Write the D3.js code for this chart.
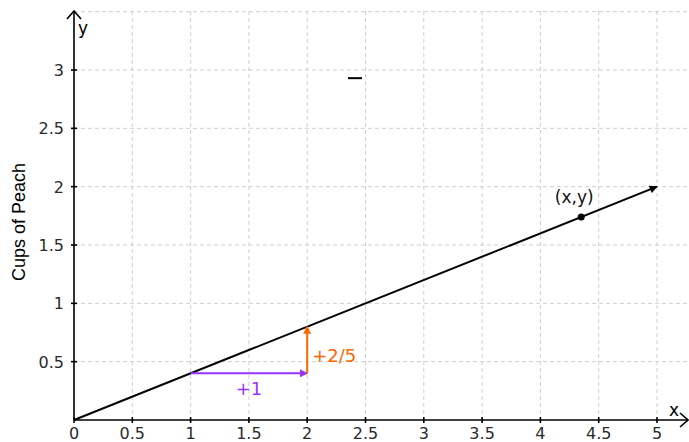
<!DOCTYPE html>
<html><head><meta charset="utf-8">
<script src="https://cdn.jsdelivr.net/npm/d3@7"></script>
<style>body{margin:0;background:#fff}svg{display:block}</style>
</head><body>
<script>
const xTicks = [0,0.5,1,1.5,2,2.5,3,3.5,4,4.5,5];
const yTicks = [0.5,1,1.5,2,2.5,3];
const xTickLabels = ["0","0.5","1","1.5","2","2.5","3","3.5","4","4.5","5"];
const yTickLabels = ["0.5","1","1.5","2","2.5","3"];
const lineStart = [0,0];
const lineEnd = [5,2];
const pointXY = [4.35,1.74];
const runArrow = [[1,0.4],[2,0.4]];
const riseArrow = [[2,0.4],[2,0.8]];
const stray = [[2.35,2.93],[2.47,2.93]];

const W=689,H=442;
const x=d3.scaleLinear().domain([0,5]).range([74,657]);
const y=d3.scaleLinear().domain([0,3]).range([420,70]);
const svg=d3.select("body").append("svg").attr("width",W).attr("height",H);
const defs=svg.append("defs");
function marker(id,color){
  defs.append("marker").attr("id",id).attr("viewBox","0 0 10 10").attr("refX",9).attr("refY",5)
   .attr("markerWidth",10).attr("markerHeight",8).attr("markerUnits","userSpaceOnUse").attr("orient","auto")
   .append("path").attr("d","M0,0L10,5L0,10Z").attr("fill",color);
}
marker("mb","#000");marker("mp","#9933ff");marker("mo","#ff6600");

const grid=svg.append("g").attr("stroke","#cfcfcf").attr("stroke-dasharray","4,3").attr("stroke-width",1);
xTicks.filter(d=>d>0).forEach(d=>grid.append("line").attr("x1",x(d)).attr("x2",x(d)).attr("y1",11).attr("y2",420));
yTicks.concat([3.5]).forEach(d=>grid.append("line").attr("x1",74).attr("x2",689).attr("y1",y(d)).attr("y2",y(d)));

// axes
const ax=svg.append("g").attr("stroke","#000").attr("stroke-width",1.6).attr("fill","none");
ax.append("line").attr("x1",74).attr("x2",74).attr("y1",420).attr("y2",11);
ax.append("path").attr("d","M67,19L74,11L81,19");
ax.append("line").attr("x1",74).attr("x2",687).attr("y1",420).attr("y2",420);
ax.append("path").attr("d","M680,413L688,420L680,427");
xTicks.forEach(d=>ax.append("line").attr("x1",x(d)).attr("x2",x(d)).attr("y1",417).attr("y2",423));
yTicks.forEach(d=>ax.append("line").attr("x1",71).attr("x2",77).attr("y1",y(d)).attr("y2",y(d)));

const tf="DejaVu Sans, Verdana, sans-serif";
svg.append("g").selectAll("text").data(xTicks).join("text")
 .attr("x",d=>x(d)).attr("y",439).attr("text-anchor","middle").attr("font-family",tf).attr("font-size",16).attr("fill","#2a2a2a")
 .text((d,i)=>xTickLabels[i]);
svg.append("g").selectAll("text").data(yTicks).join("text")
 .attr("x",64).attr("y",d=>y(d)+6).attr("text-anchor","end").attr("font-family",tf).attr("font-size",16).attr("fill","#2a2a2a")
 .text((d,i)=>yTickLabels[i]);
svg.append("text").attr("x",78).attr("y",34).attr("font-family",tf).attr("font-size",17).text("y");
svg.append("text").attr("x",669).attr("y",416).attr("font-family",tf).attr("font-size",17).text("x");
svg.append("text").attr("transform","translate(25,222) rotate(-90)").attr("text-anchor","middle")
 .attr("font-family","Liberation Sans, Arial, sans-serif").attr("font-size",18).text("Cups of Peach");

// main line
svg.append("line").attr("x1",x(lineStart[0])).attr("y1",y(lineStart[1])).attr("x2",x(lineEnd[0])).attr("y2",y(lineEnd[1]))
 .attr("stroke","#000").attr("stroke-width",2).attr("marker-end","url(#mb)");
svg.append("circle").attr("cx",x(pointXY[0])).attr("cy",y(pointXY[1])).attr("r",3.5).attr("fill","#000");
svg.append("text").attr("x",x(pointXY[0])-7).attr("y",y(pointXY[1])-14).attr("text-anchor","middle")
 .attr("font-family",tf).attr("font-size",17).attr("fill","#111").text("(x,y)");

// run / rise
svg.append("line").attr("x1",x(runArrow[0][0])).attr("y1",y(runArrow[0][1])).attr("x2",x(runArrow[1][0])).attr("y2",y(runArrow[1][1]))
 .attr("stroke","#9933ff").attr("stroke-width",2).attr("marker-end","url(#mp)");
svg.append("line").attr("x1",x(riseArrow[0][0])).attr("y1",y(riseArrow[0][1])).attr("x2",x(riseArrow[1][0])).attr("y2",y(riseArrow[1][1]))
 .attr("stroke","#ff6600").attr("stroke-width",2).attr("marker-end","url(#mo)");
svg.append("text").attr("x",x(1.5)).attr("y",395).attr("text-anchor","middle").attr("font-family",tf).attr("font-size",18).attr("fill","#9933ff").text("+1");
svg.append("text").attr("x",x(2)+5).attr("y",362).attr("font-family",tf).attr("font-size",18).attr("fill","#ff6600").text("+2/5");

svg.append("line").attr("x1",x(stray[0][0])).attr("y1",y(stray[0][1])).attr("x2",x(stray[1][0])).attr("y2",y(stray[1][1]))
 .attr("stroke","#000").attr("stroke-width",2);
</script>
</body></html>
